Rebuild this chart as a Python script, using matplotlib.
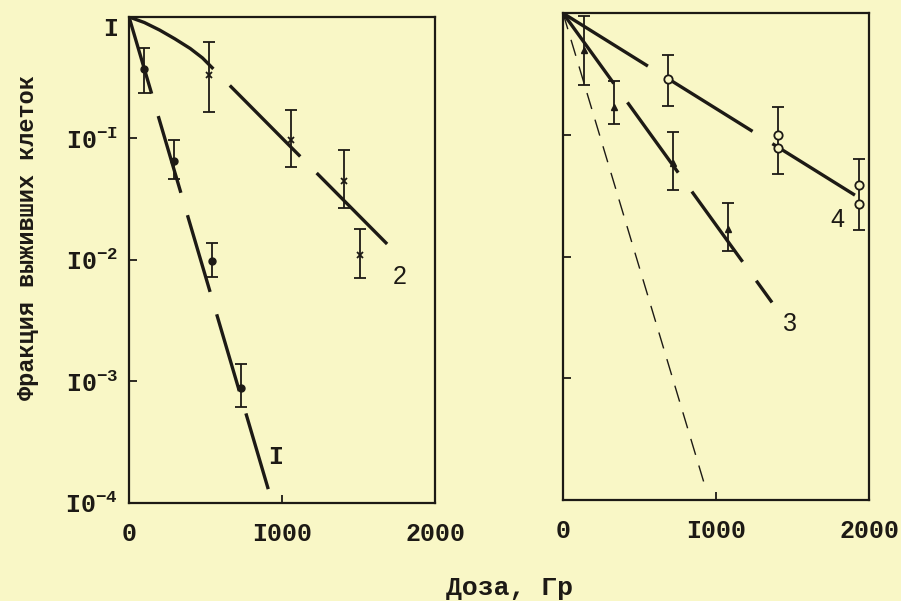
import numpy as np
import matplotlib.pyplot as plt

plt.rcParams['font.family'] = ['Liberation Mono', 'DejaVu Sans']
plt.rcParams['mathtext.fontset'] = 'custom'
plt.rcParams['mathtext.rm'] = 'Liberation Mono'
plt.rcParams['mathtext.bf'] = 'Liberation Mono:bold'

paper = '#f9f7c6'
ink = '#1d1a15'

# left panel, curve I (filled circles)
dose_1 = np.array([98, 294, 543, 732])
surv_1 = np.array([0.37, 0.065, 0.0098, 0.00089])
lo_1 = np.array([0.237, 0.046, 0.0072, 0.00062])
hi_1 = np.array([0.556, 0.098, 0.0138, 0.00138])
fit_dose_1 = [0, 910]
fit_surv_1 = [1.0, 1.3e-4]

# left panel, curve 2 (crosses)
dose_2 = np.array([523, 1059, 1405, 1510])
surv_2 = np.array([0.33, 0.097, 0.045, 0.011])
lo_2 = np.array([0.166, 0.058, 0.027, 0.0071])
hi_2 = np.array([0.62, 0.17, 0.081, 0.018])
fit_dose_2 = [0, 100, 200, 300, 400, 480, 1706]
fit_surv_2 = [1.0, 0.90, 0.78, 0.66, 0.55, 0.46, 0.0128]

# right panel, curve 3 (triangles)
dose_3 = np.array([139, 333, 717, 1080])
surv_3 = np.array([0.50, 0.17, 0.059, 0.017])
lo_3 = np.array([0.257, 0.123, 0.035, 0.0112])
hi_3 = np.array([0.95, 0.275, 0.105, 0.0275])
fit_dose_3 = [0, 1366]
fit_surv_3 = [1.0, 0.0042]

# right panel, curve 4 (open circles, two values at some doses)
dose_4 = np.array([688, 1403, 1403, 1937, 1937])
surv_4 = np.array([0.29, 0.10, 0.078, 0.039, 0.027])
err_dose_4 = np.array([688, 1403, 1937])
lo_4 = np.array([0.174, 0.048, 0.0166])
hi_4 = np.array([0.45, 0.17, 0.063])
fit_dose_4 = [0, 1908]
fit_surv_4 = [1.0, 0.032]

# thin dashed reference line (right panel)
ref_dose = [0, 928]
ref_surv = [1.0, 1.3e-4]

y_ticks = [1, 1e-1, 1e-2, 1e-3, 1e-4]
y_labels = ['I', r'I0$^{\mathbf{-I}}$', r'I0$^{\mathbf{-2}}$',
            r'I0$^{\mathbf{-3}}$', r'I0$^{\mathbf{-4}}$']
x_ticks = [0, 1000, 2000]
x_labels = ['0', 'I000', '2000']


def bars(ax, x, y, lo, hi):
    ax.errorbar(x, y, yerr=[y - lo, hi - y], fmt='none', ecolor=ink,
                elinewidth=1.3, capsize=4, capthick=1.3, zorder=3)


def setup(ax):
    ax.set_facecolor(paper)
    ax.set_yscale('log')
    ax.set_xlim(0, 2000)
    ax.set_ylim(1e-4, 1)
    ax.minorticks_off()
    ax.set_xticks(x_ticks, x_labels)
    for s in ax.spines.values():
        s.set_linewidth(1.6)
        s.set_color(ink)
    ax.tick_params(direction='in', length=6, width=1.3, color=ink,
                   labelsize=18, labelcolor=ink)
    ax.tick_params(axis='x', pad=14)
    ax.tick_params(axis='y', pad=8)
    for t in ax.get_xticklabels():
        t.set_fontweight('bold')


fig = plt.figure(figsize=(9.01, 6.01), dpi=100, facecolor=paper)
ax1 = fig.add_axes([0.1432, 0.1631, 0.3396, 0.8087])
ax2 = fig.add_axes([0.6249, 0.168, 0.3396, 0.810])
setup(ax1)
setup(ax2)
ax1.set_yticks(y_ticks, y_labels)
ax2.set_yticks(y_ticks, [''] * len(y_ticks))
for t in ax1.get_yticklabels():
    t.set_fontweight('bold')
ax1.get_yticklabels()[0].set_va('top')

thick = dict(color=ink, lw=2.4, solid_capstyle='butt', dash_capstyle='butt')

# left panel
ax1.plot(fit_dose_1, fit_surv_1, dashes=(24, 7), **thick)
ax1.plot(fit_dose_2, fit_surv_2, dashes=(30, 7), **thick)
bars(ax1, dose_1, surv_1, lo_1, hi_1)
bars(ax1, dose_2, surv_2, lo_2, hi_2)
ax1.plot(dose_1, surv_1, 'o', ms=5, color=ink, zorder=4)
ax1.plot(dose_2, surv_2, 'x', ms=4, mew=1.3, color=ink, zorder=4)
ax1.text(955, 2.4e-4, 'I', fontsize=18, fontweight='bold', color=ink,
         ha='center', va='center')
ax1.text(1772, 0.0072, '2', fontsize=18, color=ink, ha='center', va='center',
         family='Liberation Sans')

# right panel
ax2.plot(ref_dose, ref_surv, color=ink, lw=1.0, dashes=(12, 8))
ax2.plot(fit_dose_3, fit_surv_3, dashes=(26, 7), **thick)
ax2.plot(fit_dose_4, fit_surv_4, dashes=(30, 7), **thick)
bars(ax2, dose_3, surv_3, lo_3, hi_3)
bars(ax2, err_dose_4, np.sqrt(lo_4 * hi_4), lo_4, hi_4)
ax2.plot(dose_3, surv_3, '^', ms=5, color=ink, zorder=4)
ax2.plot(dose_4, surv_4, 'o', ms=6, mfc=paper, mec=ink, mew=1.3, zorder=4)
ax2.text(1484, 0.0028, '3', fontsize=18, color=ink, ha='center', va='center',
         family='Liberation Sans')
ax2.text(1791, 0.020, '4', fontsize=18, color=ink, ha='center', va='center',
         family='Liberation Sans')

fig.text(28 / 901, 1 - 238 / 601, 'Фракция выживших клеток', rotation=90,
         fontsize=17, fontweight='bold', color=ink, ha='center', va='center')
fig.text(510 / 901, 1 - 588 / 601, 'Доза, Гр', fontsize=19, fontweight='bold',
         color=ink, ha='center', va='center')

fig.savefig('out.png', dpi=100, facecolor=paper)
